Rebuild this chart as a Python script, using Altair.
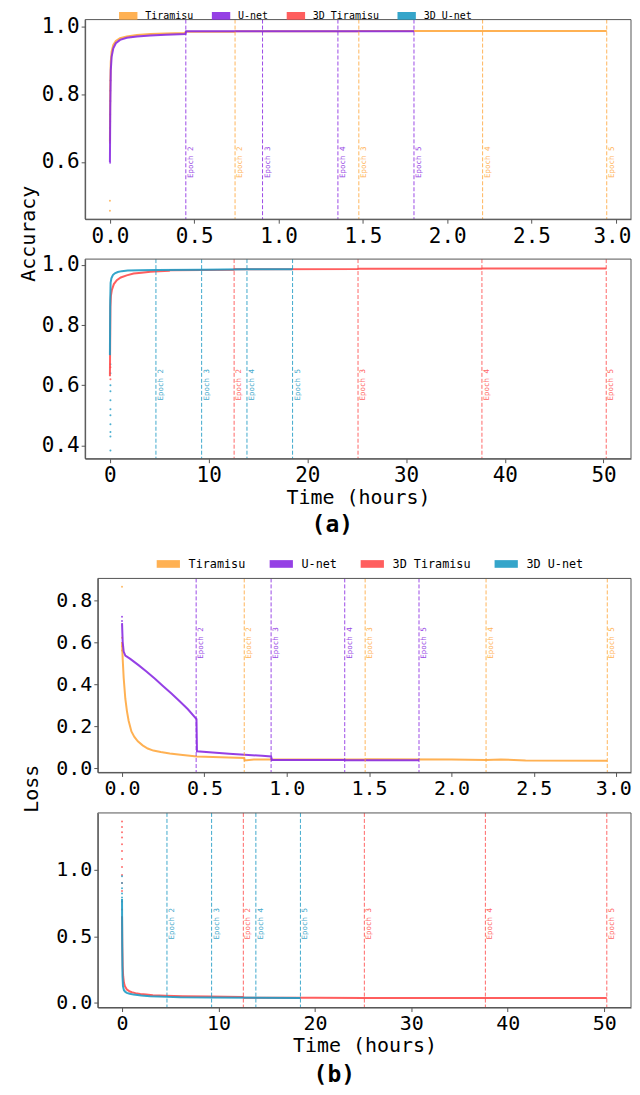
import altair as alt
import pandas as pd

FONT = "DejaVu Sans Mono"
series_names = ["Tiramisu", "U-net", "3D Tiramisu", "3D U-net"]
series_colors = ["#ffa940", "#8a2be2", "#ff4d4d", "#1f9bc4"]
axis_titles = ["Accuracy", "Loss"]
time_title = "Time (hours)"
panel_tags = ["(a)", "(b)"]

# ---------------- (a) top: accuracy, 2D models ----------------
acc2d_tir_t = [0.0, 0.002, 0.005, 0.01, 0.02, 0.035, 0.06, 0.1, 0.16, 0.24, 0.33, 0.44, 0.452, 0.74, 0.745, 1.47, 1.48, 2.2, 2.215, 2.946]
acc2d_tir_v = [0.66, 0.82, 0.895, 0.925, 0.945, 0.957, 0.965, 0.97, 0.974, 0.977, 0.979, 0.980, 0.984, 0.984, 0.985, 0.985, 0.986, 0.986, 0.986, 0.986]
acc2d_unet_t = [0.0, 0.002, 0.005, 0.01, 0.02, 0.035, 0.06, 0.1, 0.16, 0.24, 0.33, 0.448, 0.452, 0.9, 0.905, 1.35, 1.355, 1.803]
acc2d_unet_v = [0.6, 0.76, 0.87, 0.91, 0.935, 0.95, 0.96, 0.966, 0.970, 0.973, 0.975, 0.977, 0.985, 0.985, 0.985, 0.985, 0.985, 0.985]
acc2d_dot_t = [0.0, 0.0, 0.0, 0.001, 0.0, 0.001, 0.001, 0.002, 0.002, 0.003]
acc2d_dot_v = [0.456, 0.486, 0.657, 0.598, 0.70, 0.72, 0.74, 0.78, 0.81, 0.84]
acc2d_dot_s = ["Tiramisu", "Tiramisu", "Tiramisu", "U-net", "U-net", "U-net", "U-net", "U-net", "U-net", "U-net"]

# ---------------- (a) bottom: accuracy, 3D models ----------------
acc3d_tir_t = [0.0, 0.05, 0.1, 0.2, 0.4, 0.7, 1.1, 1.7, 2.4, 3.2, 4.1, 5.0, 6.0, 6.1, 12.55, 12.6, 25.1, 25.2, 37.65, 37.7, 50.27]
acc3d_tir_v = [0.63, 0.86, 0.897, 0.917, 0.936, 0.949, 0.958, 0.965, 0.971, 0.974, 0.977, 0.979, 0.980, 0.982, 0.984, 0.985, 0.986, 0.987, 0.987, 0.988, 0.988]
acc3d_unet_t = [0.0, 0.03, 0.07, 0.15, 0.3, 0.5, 0.8, 1.2, 1.8, 3.0, 4.66, 9.29, 13.88, 18.5]
acc3d_unet_v = [0.7, 0.88, 0.94, 0.955, 0.966, 0.972, 0.976, 0.979, 0.981, 0.982, 0.983, 0.984, 0.985, 0.985]
acc3d_dot_t = [0.05, 0.05, 0.05, 0.05, 0.05, 0.05, 0.05, 0.05, 0.05, 0.05, 0.05, 0.05, 0.05]
acc3d_dot_v = [0.383, 0.43, 0.445, 0.47, 0.5, 0.52, 0.55, 0.58, 0.6, 0.64, 0.67, 0.62, 0.66]
acc3d_dot_s = ["3D U-net"] * 11 + ["3D Tiramisu"] * 2

# ---------------- (b) top: loss, 2D models ----------------
loss2d_tir_t = [0.0, 0.004, 0.01, 0.02, 0.03, 0.04, 0.057, 0.075, 0.096, 0.125, 0.156, 0.19, 0.235, 0.29, 0.355, 0.454, 0.6, 0.742, 0.745, 0.8, 1.0, 1.476, 1.48, 2.0, 2.21, 2.3, 2.45, 2.946]
loss2d_tir_v = [0.6, 0.52, 0.43, 0.33, 0.27, 0.225, 0.174, 0.148, 0.127, 0.108, 0.093, 0.083, 0.076, 0.069, 0.063, 0.055, 0.051, 0.048, 0.036, 0.040, 0.041, 0.040, 0.042, 0.040, 0.038, 0.041, 0.036, 0.035]
loss2d_unet_t = [0.0, 0.004, 0.01, 0.02, 0.05, 0.1, 0.15, 0.2, 0.25, 0.3, 0.35, 0.4, 0.452, 0.455, 0.55, 0.65, 0.745, 0.85, 0.905, 0.91, 1.35, 1.355, 1.803]
loss2d_unet_v = [0.69, 0.6, 0.555, 0.535, 0.52, 0.49, 0.459, 0.425, 0.39, 0.355, 0.318, 0.28, 0.233, 0.08, 0.074, 0.068, 0.063, 0.058, 0.055, 0.038, 0.038, 0.037, 0.037]
loss2d_dot_t = [0.0, 0.0, 0.0, 0.0, 0.0, 0.0]
loss2d_dot_v = [0.863, 0.62, 0.58, 0.56, 0.72, 0.70]
loss2d_dot_s = ["Tiramisu"] * 4 + ["U-net"] * 2

# ---------------- (b) bottom: loss, 3D models ----------------
loss3d_tir_t = [0.0, 0.03, 0.07, 0.12, 0.2, 0.3, 0.5, 0.75, 1.0, 1.4, 1.9, 2.5, 3.2, 4.5, 6.3, 9.0, 12.55, 12.65, 20.0, 25.13, 30.0, 37.68, 45.0, 50.27]
loss3d_tir_v = [0.65, 0.42, 0.27, 0.2, 0.15, 0.125, 0.1, 0.088, 0.08, 0.073, 0.067, 0.062, 0.057, 0.053, 0.05, 0.047, 0.045, 0.039, 0.038, 0.037, 0.037, 0.036, 0.036, 0.036]
loss3d_unet_t = [0.0, 0.02, 0.05, 0.1, 0.2, 0.35, 0.5, 0.8, 1.2, 2.0, 2.9, 3.8, 4.66, 6.0, 9.29, 13.88, 18.5]
loss3d_unet_v = [0.78, 0.45, 0.2, 0.125, 0.095, 0.082, 0.075, 0.068, 0.062, 0.055, 0.05, 0.047, 0.045, 0.042, 0.04, 0.038, 0.037]
loss3d_dot_t = [0.0] * 18
loss3d_dot_v = [1.36, 1.32, 1.28, 1.24, 1.19, 1.14, 1.08, 1.02, 0.96, 0.9, 0.84, 0.76, 0.7, 0.95, 0.9, 0.86, 0.82, 0.79]
loss3d_dot_s = ["3D Tiramisu"] * 13 + ["3D U-net"] * 5

# ---------------- epoch markers ----------------
epoch2d_t = [0.45, 0.742, 0.905, 1.352, 1.476, 1.803, 2.21, 2.946]
epoch2d_s = ["U-net", "Tiramisu", "U-net", "U-net", "Tiramisu", "U-net", "Tiramisu", "Tiramisu"]
epoch2d_lbl = ["Epoch 2", "Epoch 2", "Epoch 3", "Epoch 4", "Epoch 3", "Epoch 5", "Epoch 4", "Epoch 5"]
epoch3d_t = [4.66, 9.29, 12.58, 13.88, 18.5, 25.13, 37.68, 50.27]
epoch3d_s = ["3D U-net", "3D U-net", "3D Tiramisu", "3D U-net", "3D U-net", "3D Tiramisu", "3D Tiramisu", "3D Tiramisu"]
epoch3d_lbl = ["Epoch 2", "Epoch 3", "Epoch 2", "Epoch 4", "Epoch 5", "Epoch 3", "Epoch 4", "Epoch 5"]
epoch_label_y = [0.553, 0.549, 0.52, 0.475]


def cscale():
    return alt.Scale(domain=series_names, range=series_colors)


def line_df(name, t, v):
    return pd.DataFrame({"t": t, "v": v, "s": [name] * len(t)})


def build_panel(lines, dots, ep_t, ep_s, ep_lbl, ep_y, xdom, ydom, xrange, w, h,
                xticks, yticks, fs, legend, xtitle, yoffset, extras):
    if xrange is None:
        xs = alt.Scale(domain=xdom, nice=False, zero=False)
    else:
        xs = alt.Scale(domain=xdom, range=xrange, nice=False, zero=False)
    ys = alt.Scale(domain=ydom, nice=False, zero=False)
    if xticks[-1] < 10:
        xax = alt.Axis(values=xticks, format=".1f", labelFontSize=fs, titleFontSize=20,
                       labelFlush=20, labelFlushOffset=15)
    else:
        xax = alt.Axis(values=xticks, format="d", labelFontSize=fs, titleFontSize=20,
                       labelFlush=False)
    yax = alt.Axis(values=yticks, format=".1f", labelFontSize=fs, offset=yoffset)
    X = alt.X("t:Q", scale=xs, axis=xax, title=xtitle)
    Y = alt.Y("v:Q", scale=ys, axis=yax, title=None)
    layers = []
    dt, dv, ds = dots
    dot_fill = alt.Fill("s:N", scale=cscale(), legend=legend) if legend is not None else \
        alt.Fill("s:N", scale=cscale(), legend=None)
    layers.append(
        alt.Chart(pd.DataFrame({"t": dt, "v": dv, "s": ds})).mark_circle(size=4, opacity=0.8).encode(
            x=X, y=Y, fill=dot_fill))
    for name, t, v in lines:
        layers.append(
            alt.Chart(line_df(name, t, v)).mark_line(strokeWidth=2, opacity=0.9).encode(
                x=X, y=Y, stroke=alt.Stroke("s:N", scale=cscale(), legend=None)))
    ep = pd.DataFrame({"t": ep_t, "s": ep_s, "lbl": ep_lbl, "v": [ep_y] * len(ep_t)})
    layers.append(
        alt.Chart(ep).mark_rule(strokeDash=[4, 2], strokeWidth=1, opacity=0.85).encode(
            x=X, stroke=alt.Stroke("s:N", scale=cscale(), legend=None)))
    layers.append(
        alt.Chart(ep).mark_text(angle=270, align="left", baseline="top", font=FONT, fontSize=7.5,
                                dy=1, opacity=0.85).encode(
            x=X, y=Y, text="lbl:N", color=alt.Color("s:N", scale=cscale(), legend=None)))
    x0 = xrange[0] if xrange is not None else 0
    layers.append(
        alt.Chart(pd.DataFrame({"f": [0]})).mark_rect(fillOpacity=0, stroke="#555555", strokeWidth=1).encode(
            x=alt.value(x0), x2=alt.value(w), y=alt.value(0), y2=alt.value(h)))
    for txt, px, py, size, weight, ang in extras:
        layers.append(
            alt.Chart(pd.DataFrame({"label": [txt]})).mark_text(
                font=FONT, fontSize=size, fontWeight=weight, angle=ang, align="center",
                baseline="middle", color="black").encode(
                x=alt.value(px), y=alt.value(py), text="label:N"))
    return alt.layer(*layers).properties(width=w, height=h)


legend_a = alt.Legend(orient="none", legendX=33.7, legendY=-13.5, direction="horizontal", title=None,
                      symbolType="M-1,-0.42L1,-0.42L1,0.42L-1,0.42Z", symbolSize=339,
                      symbolStrokeWidth=0, symbolOpacity=0.9,
                      labelFont=FONT, labelFontSize=10, columnPadding=18, labelOffset=7.5, padding=0)
legend_b = alt.Legend(orient="none", legendX=71.35, legendY=-26.6, direction="horizontal", title=None,
                      symbolType="M-1,-0.33L1,-0.33L1,0.33L-1,0.33Z", symbolSize=543,
                      symbolStrokeWidth=0, symbolOpacity=0.9,
                      labelFont=FONT, labelFontSize=11.8, columnPadding=23.2, labelOffset=8.3, padding=0)

xdom2d = [-0.147, 3.09]
xdom3d = [-2.51, 52.78]
ticks2d = [0.0, 0.5, 1.0, 1.5, 2.0, 2.5, 3.0]
ticks3d = [0, 10, 20, 30, 40, 50]
W_TOP = 547
W_BOT = 547

p1 = build_panel(
    [("Tiramisu", acc2d_tir_t, acc2d_tir_v), ("U-net", acc2d_unet_t, acc2d_unet_v)],
    (acc2d_dot_t, acc2d_dot_v, acc2d_dot_s), epoch2d_t, epoch2d_s, epoch2d_lbl, epoch_label_y[0],
    xdom2d, [0.4315, 1.0197], None, W_TOP, 200, ticks2d, [0.6, 0.8, 1.0], 21, legend_a, None, 0,
    [(axis_titles[0], -56.3, 214.7, 20, "normal", 270)])

p2 = build_panel(
    [("3D Tiramisu", acc3d_tir_t, acc3d_tir_v), ("3D U-net", acc3d_unet_t, acc3d_unet_v)],
    (acc3d_dot_t, acc3d_dot_v, acc3d_dot_s), epoch3d_t, epoch3d_s, epoch3d_lbl, epoch_label_y[1],
    xdom3d, [0.356, 1.019], None, W_TOP, 200, ticks3d, [0.4, 0.6, 0.8, 1.0], 21, None, time_title, 0,
    [(panel_tags[0], 247.7, 266.7, 23, "bold", 0)])

spacer = alt.Chart(pd.DataFrame({"f": [0]})).mark_point(opacity=0).encode(
    x=alt.value(0), y=alt.value(0)).properties(width=10, height=40)

p3 = build_panel(
    [("Tiramisu", loss2d_tir_t, loss2d_tir_v), ("U-net", loss2d_unet_t, loss2d_unet_v)],
    (loss2d_dot_t, loss2d_dot_v, loss2d_dot_s), epoch2d_t, epoch2d_s, epoch2d_lbl, epoch_label_y[2],
    xdom2d, [-0.021, 0.903], [12.7, W_BOT], W_BOT, 194.4, ticks2d, [0.0, 0.2, 0.4, 0.6, 0.8], 20,
    legend_b, None, -12.7,
    [(axis_titles[1], -53.3, 210.7, 20, "normal", 270)])

p4 = build_panel(
    [("3D Tiramisu", loss3d_tir_t, loss3d_tir_v), ("3D U-net", loss3d_unet_t, loss3d_unet_v)],
    (loss3d_dot_t, loss3d_dot_v, loss3d_dot_s), epoch3d_t, epoch3d_s, epoch3d_lbl, epoch_label_y[3],
    xdom3d, [-0.035, 1.425], [12.7, W_BOT], W_BOT, 195, ticks3d, [0.0, 0.5, 1.0], 20, None, time_title,
    -12.7, [(panel_tags[1], 249.7, 262.4, 23, "bold", 0)])

chart = alt.vconcat(p1, p2, spacer, p3, p4, spacing=40, bounds="flush").resolve_scale(
    fill="independent").properties(
    padding={"left": 10.3, "top": -3.5, "right": 0, "bottom": -3}
).configure_view(stroke=None).configure_axis(
    labelFont=FONT, titleFont=FONT, grid=False, domainColor="#555555", tickColor="#555555",
    tickSize=4, labelColor="black", titleColor="black", titleFontWeight="normal",
    labelPadding=2, titlePadding=2, domainWidth=1)

chart.save("out.html", embed_options={"renderer": "svg", "actions": False})
